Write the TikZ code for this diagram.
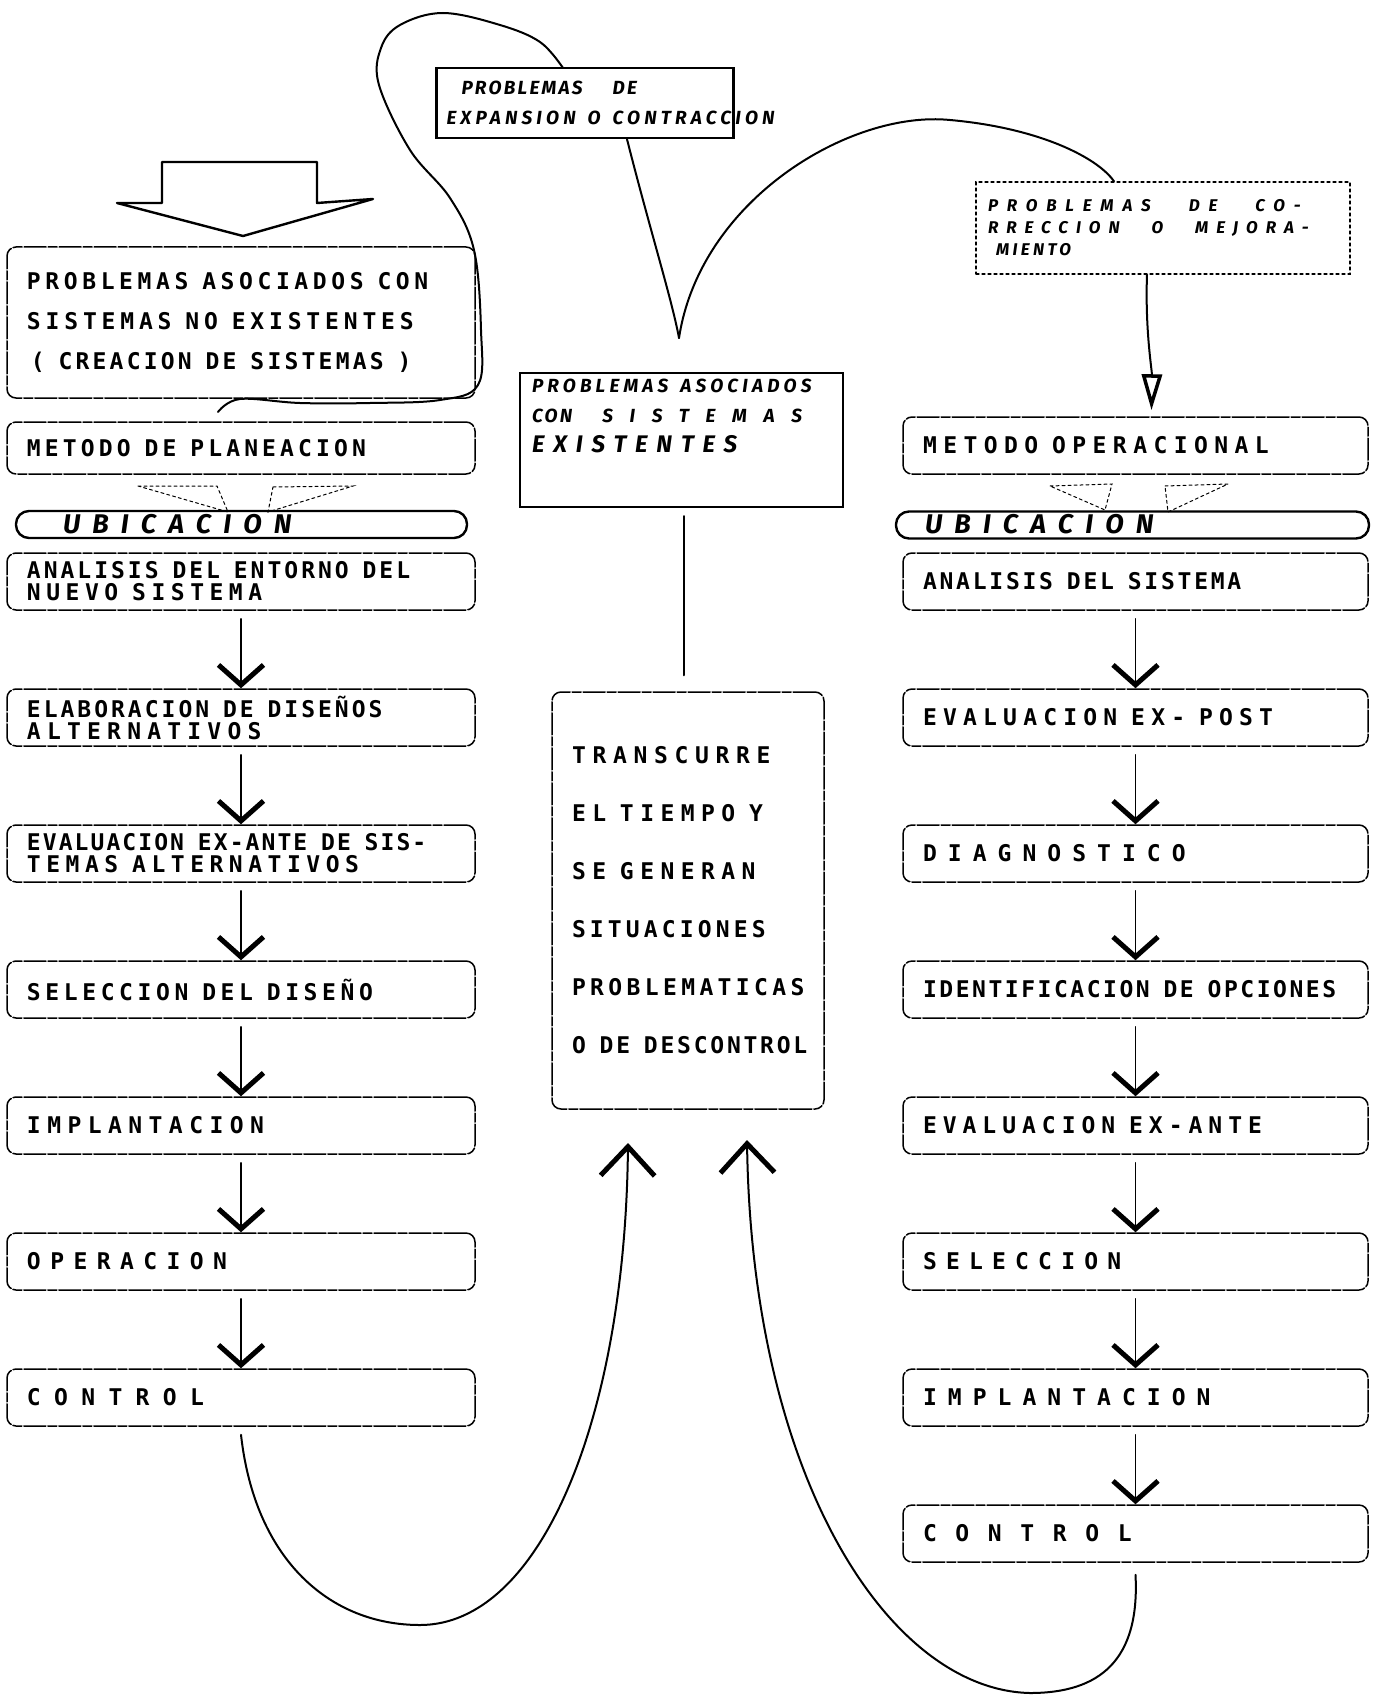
\documentclass[tikz,border=0pt]{standalone}
\usepackage{fontspec}
\newfontfamily\maquina[LetterSpace=18]{DejaVu Sans Mono}
\newfontfamily\mano[LetterSpace=12]{Fira Sans}
\newcommand{\abre}[2]{{\addfontfeature{LetterSpace=#1}#2}}
\newcommand{\esp}{\phantom{X}}
\newcommand{\hueco}[1]{\hspace{#1pt}}
\hyphenpenalty=10000
\exhyphenpenalty=10000
\usetikzlibrary{positioning, arrows.meta}

\begin{document}
\begin{tikzpicture}[x=1pt, y=-1pt, node distance=136pt, on grid, line cap=round,
    caja/.style={draw, line width=1.5pt, rounded corners=9pt,
      dash pattern=on 22pt off 2pt on 9pt off 2pt,
      minimum height=57pt, inner xsep=20pt, inner ysep=4pt, align=left,
      font=\maquina\bfseries\fontsize{23}{22}\selectfont},
    izq/.style={caja, text width=428pt},
    der/.style={caja, text width=425pt},
    nota/.style={draw, line width=2.4pt, align=left, inner xsep=10pt,
      font=\mano\bfseries\itshape\fontsize{19}{30}\selectfont},
    ovalo/.style={draw, line width=2.4pt, rounded corners=13pt,
      inner ysep=5pt, text height=17pt, text depth=0pt, align=left,
      font=\mano\bfseries\itshape\fontsize{27}{27}\selectfont},
    flecha/.style={line width=1.2pt, -{Straight Barb[length=20pt, width=45pt, line width=5pt]}},
    lazo/.style={line width=2pt},
    subida/.style={lazo, -{Straight Barb[length=29pt, width=54pt, line width=5pt]}},
    cuna/.style={line width=1pt, dashed}]
\useasboundingbox (0,0) rectangle (1373,1696);

% sistemas no existentes
\draw[line width=2.4pt, line join=round] (162,162) -- (317,162) -- (317,203) -- (373,199)
  -- (243,236) -- (117,203) -- (162,203) -- cycle;
\node[izq, minimum height=151pt, font=\maquina\bfseries\fontsize{23}{40}\selectfont] (asociados) at (241,322.5)
  {\abre{20}{PROBLEMAS\esp ASOCIADOS\esp CON}\\\abre{21}{SISTEMAS\esp NO\esp EXISTENTES}\\\,\abre{14}{(\esp CREACION\esp DE\esp SISTEMAS\esp )}};
\node[izq, minimum height=52pt] (planeacion) at (241,448) {METODO\esp DE\esp PLANEACION};
\node[ovalo, text width=357pt, inner xsep=47pt] (ubicaA) at (241.5,524.5) {\abre{45}{UBICACION}};
\node[izq] (entorno) at (241,581.5) {\abre{13}{ANALISIS\esp DEL\esp ENTORNO\esp DEL}\\\abre{24}{NUEVO\esp SISTEMA}};
\node[izq] (alternos) [below=of entorno] {\abre{13}{ELABORACION\esp DE\esp DISEÑOS}\\\abre{27}{ALTERNATIVOS}};
\node[izq] (exanteA) [below=of alternos] {\abre{9}{EVALUACION\esp EX-ANTE\esp DE\esp SIS-}\\\abre{24}{TEMAS\esp ALTERNATIVOS}};
\node[izq] (diseno) [below=of exanteA] {\abre{20}{SELECCION\esp DEL\esp DISEÑO}};
\node[izq] (implantaA) [below=of diseno] {\abre{28}{IMPLANTACION}};
\node[izq] (operacion) [below=of implantaA] {\abre{41}{OPERACION}};
\node[izq] (controlA) [below=of operacion] {\abre{58}{CONTROL}};

% sistemas existentes
\node[der] (operacional) at (1135.5,445.5) {\abre{28}{METODO\esp OPERACIONAL}};
\node[ovalo, text width=415pt, inner xsep=29pt] (ubicaB) at (1132.5,525) {\abre{45}{UBICACION}};
\node[der] (sistema) at (1135.5,581.5) {\abre{12}{ANALISIS\esp DEL\esp SISTEMA}};
\node[der] (expost) [below=of sistema] {\abre{27}{EVALUACION\esp EX-\esp POST}};
\node[der] (diagnostico) [below=of expost] {\abre{48}{DIAGNOSTICO}};
\node[der] (opciones) [below=of diagnostico] {\abre{11}{IDENTIFICACION\esp DE\esp OPCIONES}};
\node[der] (exanteB) [below=of opciones] {\abre{26}{EVALUACION\esp EX-ANTE}};
\node[der] (seleccion) [below=of exanteB] {\abre{40}{SELECCION}};
\node[der] (implantaB) [below=of seleccion] {\abre{48}{IMPLANTACION}};
\node[der] (controlB) [below=of implantaB] {\abre{81}{CONTROL}};

% centro
\node[caja, text width=232pt, minimum height=417pt, font=\maquina\bfseries\fontsize{23}{58}\selectfont] (tiempo) at (688,900.5)
  {\abre{29}{TRANSCURRE}\\\abre{28}{EL\esp TIEMPO\esp Y}\\\abre{28}{SE\esp GENERAN}\\SITUACIONES\\\abre{19}{PROBLEMATICAS}\\\mbox{\abre{12}{O\esp DE\esp DESCONTROL}}};
\node[nota, text width=277pt, minimum height=70pt] (expansion) at (585,103)
  {\hueco{15}PROBLEMAS\hueco{30}DE\\\mbox{\abre{22}{EXPANSION}\hueco{12}\abre{22}{O}\hueco{12}\abre{22}{CONTRACCION}}};
\node[nota, text width=299pt, minimum height=134pt, inner xsep=12pt] (existentes) at (681.5,440)
  {\abre{22}{PROBLEMAS}\hueco{12}\abre{22}{ASOCIADOS}\\CON\hueco{30}\abre{88}{SISTEMAS}\\{\fontsize{24}{30}\selectfont\abre{37}{EXISTENTES}}\\[18pt]\mbox{}};
\node[nota, line width=1.2pt, dashed, text width=350pt, minimum height=92pt, inner xsep=12pt,
  font=\mano\bfseries\itshape\fontsize{17}{22}\selectfont] (correccion) at (1163,228)
  {\abre{52}{PROBLEMAS}\hueco{38}\abre{52}{DE}\hueco{38}\abre{52}{CO-}\\
   \abre{47}{RRECCION}\hueco{32}\abre{47}{O}\hueco{32}\abre{47}{MEJORA-}\\\hueco{8}\abre{20}{MIENTO}};

\coordinate (vertice) at (679,338);
\coordinate (puntaA) at (628,1143);
\coordinate (puntaB) at (747,1140);

\draw[lazo] plot[smooth, tension=0.6] coordinates {(218,412) (240,399) (300,403) (370,403) (440,400)
  (478,385) (481,330) (474,250) (450,198) (410,150) (379,85) (381,48) (400,25) (443,13) (500,25)
  (540,42) (563,68)};
\draw[lazo] ([xshift=42pt]expansion.south) .. controls (650,230) and (672,300) .. (vertice);
\draw[lazo] (vertice) .. controls (700,200) and (850,110) .. (950,120)
  .. controls (1040,128) and (1098,158) .. ([xshift=-49pt]correccion.north);
\draw[lazo, -{Triangle[open, length=36pt, width=20pt, line width=3.5pt]}] ([xshift=-16pt]correccion.south)
  .. controls (1145,330) and (1152,370) .. ([shift={(16pt,6pt)}]operacional.north);
\draw[lazo] ([shift={(2.5pt,-8pt)}]existentes.south) -- ([shift={(-4pt,16pt)}]tiempo.north);

\draw[cuna] (138,486) -- (217,486) -- (228,512) -- cycle;
\draw[cuna] (273,487) -- (353,486) -- (268,512) -- cycle;
\draw[cuna] (1050,486) -- (1112,484) -- (1105,510) -- cycle;
\draw[cuna] (1165,486) -- (1228,484) -- (1168,512) -- cycle;

\foreach \a/\b in {entorno/alternos, alternos/exanteA, exanteA/diseno, diseno/implantaA,
    implantaA/operacion, operacion/controlA, sistema/expost, expost/diagnostico,
    diagnostico/opciones, opciones/exanteB, exanteB/seleccion, seleccion/implantaB,
    implantaB/controlB}
  \draw[flecha] ([yshift=-8pt]\a.south) -- (\b.north);

\draw[subida] ([yshift=-8pt]controlA.south) .. controls (255,1560) and (330,1625) .. (420,1625)
  .. controls (540,1625) and (625,1420) .. (puntaA);
\draw[subida] ([yshift=-12pt]controlB.south) .. controls (1140,1660) and (1100,1693) .. (1030,1693)
  .. controls (890,1690) and (752,1480) .. (puntaB);
\end{tikzpicture}
\end{document}
